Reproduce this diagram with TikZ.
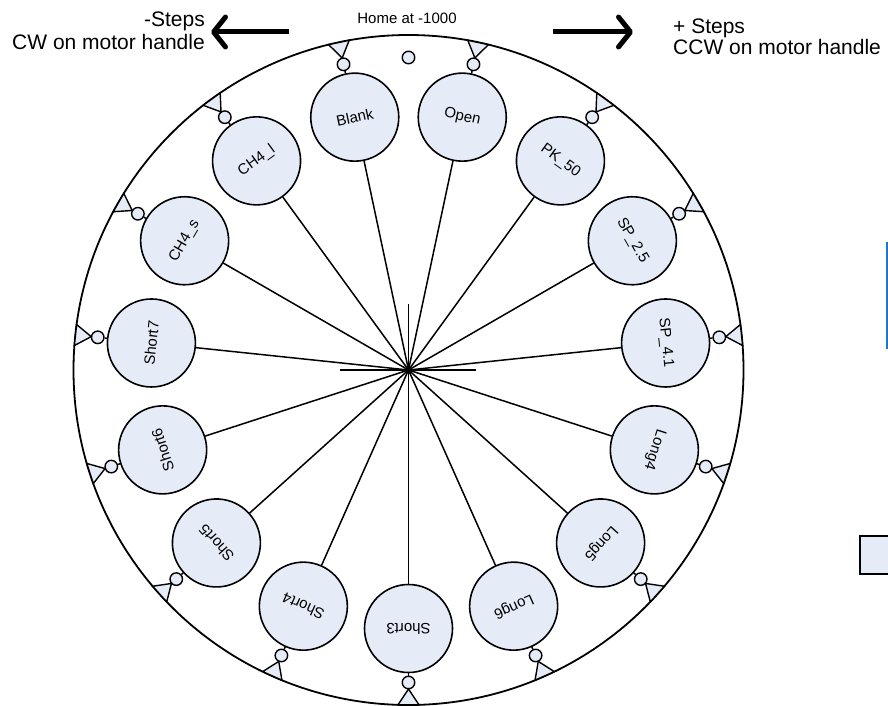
\documentclass[tikz,border=0pt]{standalone}
\usepackage{fontspec}
\setmainfont{Liberation Sans}
\usetikzlibrary{arrows.meta}
\definecolor{nodefill}{RGB}{230,236,247}
\definecolor{edgeblue}{RGB}{31,119,200}
\begin{document}
\begin{tikzpicture}[x=1pt,y=1pt,
  bignode/.style={circle, draw, line width=1.6pt, fill=nodefill, minimum size=88pt, inner sep=0pt, font=\fontsize{15}{18}\selectfont},
  smallc/.style={circle, draw, line width=1.4pt, fill=nodefill, minimum size=12.5pt, inner sep=0pt},
  tri/.style={draw, line width=1.4pt, fill=nodefill, line join=miter},
  spoke/.style={draw, line width=1.5pt},
  bigarrow/.style={line width=5pt, -{Straight Barb[length=12pt, width=30pt, round]}},
  bigtext/.style={font=\fontsize{21}{25}\selectfont, inner sep=0pt},
  hometext/.style={font=\fontsize{15}{18}\selectfont, inner sep=0pt}
]
\useasboundingbox (0,0) rectangle (888,-706);
\clip (0,0) rectangle (888,-706);
\fill[white] (0,0) rectangle (888,-706);

% rim
\coordinate (C) at (408.5,-370);
\draw[line width=1.8pt] (C) circle (335);

% centre cross
\coordinate (hl) at (340,-370);
\coordinate (hr) at (476,-370);
\coordinate (vt) at (408.5,-304);
\draw[spoke] (hl) -- (hr);
\draw[spoke] (vt) -- (C);

\begin{scope}[shift={(408.5,-370)}]
  \node[smallc] (sh) at (90:312.5) {};
  \foreach \a/\t [count=\i] in {102/Blank, 78/Open, 54/PK\_50, 30/SP\_2.5, 6/SP\_4.1, -18/Long4, -42/Long5, -66/Long6, -90/Short3, -114/Short4, -138/Short5, -162/Short6, 174/Short7, 150/CH4\_s, 126/CH4\_l} {
    \node[bignode, rotate=\a-90] (n\i) at (\a:258.5) {\t};
    \node[smallc] (s\i) at (\a:312.5) {};
    \draw[spoke] (C) -- (n\i);
    \draw[spoke] (n\i) -- (s\i);
    \draw[tri] (\a:319) -- ({\a+1.8}:335) -- ({\a-1.8}:335) -- cycle;
  }
\end{scope}

% top texts and arrows
\node[hometext, anchor=base] (home) at (407,-24) {Home at -1000};
\node[bigtext, anchor=base east] (lt1) at (205,-26.5) {-Steps};
\node[bigtext, anchor=base east] (lt2) at (205,-50) {CW on motor handle};
\node[bigtext, anchor=base west] (rt1) at (673,-34) {+ Steps};
\node[bigtext, anchor=base west] (rt2) at (673,-54.5) {CCW on motor handle};

\coordinate (la1) at (289,-32);
\coordinate (la2) at (211,-32);
\coordinate (ra1) at (553,-32);
\coordinate (ra2) at (633,-32);
\draw[bigarrow] (la1) -- (la2);
\draw[bigarrow] (ra1) -- (ra2);

% partial shapes at the right edge
\node[draw, line width=2pt, fill=nodefill, minimum width=60pt, minimum height=38pt, anchor=north west, inner sep=0pt] (rb) at (859,-535) {};
\coordinate (bl1) at (887,-242);
\coordinate (bl2) at (887,-349);
\draw[edgeblue, line width=2.5pt] (bl1) -- (bl2);
\end{tikzpicture}
\end{document}
